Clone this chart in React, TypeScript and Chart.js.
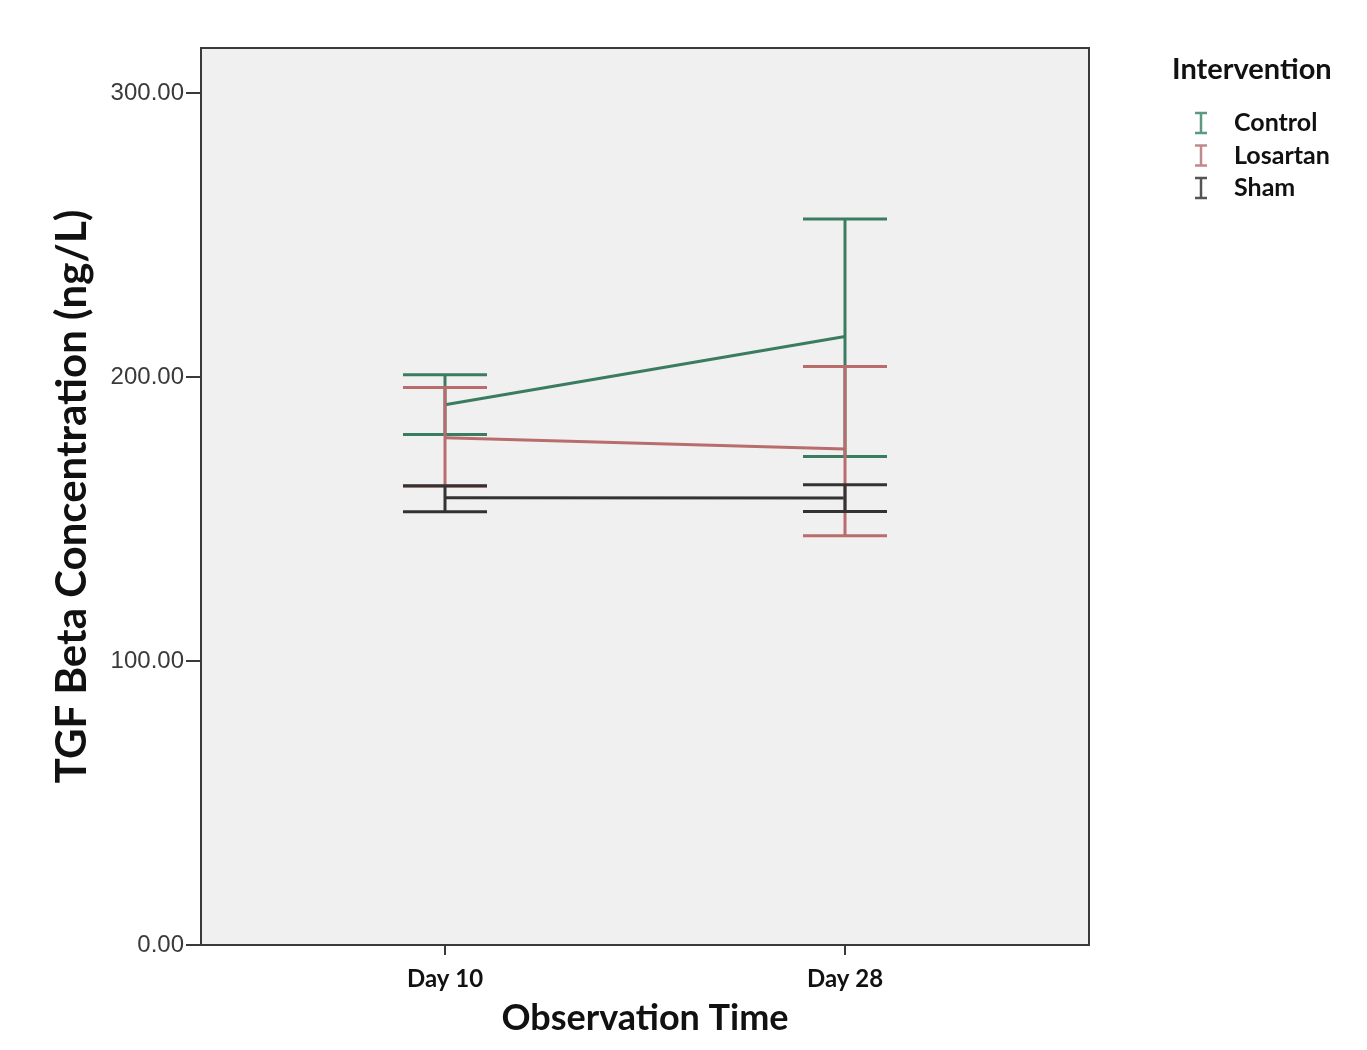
import React, { useEffect, useRef } from "react";
import { Chart, registerables } from "chart.js";

Chart.register(...registerables);

const categories = ["Day 10", "Day 28"];
const seriesNames = ["Control", "Losartan", "Sham"];
const controlMean = [190.3, 214.4];
const controlUpper = [200.9, 255.8];
const controlLower = [179.8, 172.1];
const losartanMean = [178.7, 174.7];
const losartanUpper = [196.4, 203.8];
const losartanLower = [161.6, 144.2];
const shamMean = [157.6, 157.5];
const shamUpper = [161.8, 162.1];
const shamLower = [152.6, 152.7];
const yTickValues = [0, 100, 200, 300];
const seriesColors = ["#3b7c60", "#b86c6c", "#333333"];
const legendIconColors = ["#5a9a80", "#c08a8a", "#555555"];

const means = [controlMean, losartanMean, shamMean];
const uppers = [controlUpper, losartanUpper, shamUpper];
const lowers = [controlLower, losartanLower, shamLower];

const W = 1367;
const H = 1050;

const errorBarPlugin = {
  id: "errorBars",
  afterDatasetsDraw(chart: any) {
    const ctx = chart.ctx;
    const xs = chart.scales.x;
    const ys = chart.scales.y;
    ctx.save();
    ctx.lineWidth = 3;
    ctx.lineCap = "butt";
    means.forEach((_, si) => {
      ctx.strokeStyle = seriesColors[si];
      categories.forEach((_, ci) => {
        const px = xs.getPixelForValue(ci + 1);
        const pu = ys.getPixelForValue(uppers[si][ci]);
        const pl = ys.getPixelForValue(lowers[si][ci]);
        ctx.beginPath();
        ctx.moveTo(px, pu);
        ctx.lineTo(px, pl);
        ctx.moveTo(px - 42, pu);
        ctx.lineTo(px + 42, pu);
        ctx.moveTo(px - 42, pl);
        ctx.lineTo(px + 42, pl);
        ctx.stroke();
      });
    });
    ctx.restore();
  },
};

const framePlugin = {
  id: "frame",
  beforeDraw(chart: any) {
    const { ctx, chartArea } = chart;
    ctx.save();
    ctx.fillStyle = "#ffffff";
    ctx.fillRect(0, 0, chart.width, chart.height);
    ctx.fillStyle = "#f0f0f0";
    ctx.fillRect(chartArea.left, chartArea.top, chartArea.right - chartArea.left, chartArea.bottom - chartArea.top);
    ctx.restore();
  },
  afterDraw(chart: any) {
    const { ctx, chartArea } = chart;
    ctx.save();
    ctx.strokeStyle = "#3a3a3a";
    ctx.lineWidth = 2;
    ctx.strokeRect(chartArea.left, chartArea.top, chartArea.right - chartArea.left, chartArea.bottom - chartArea.top);
    // legend
    ctx.fillStyle = "#111111";
    ctx.textBaseline = "middle";
    ctx.textAlign = "left";
    ctx.font = "bold 29px Lato";
    ctx.fillText("Intervention", 1172, 70);
    ctx.font = "bold 25px Lato";
    seriesNames.forEach((name, i) => {
      const y = 123 + i * 32.5;
      ctx.strokeStyle = legendIconColors[i];
      ctx.lineWidth = 2.5;
      ctx.beginPath();
      ctx.moveTo(1201, y - 10);
      ctx.lineTo(1201, y + 10);
      ctx.moveTo(1195, y - 10);
      ctx.lineTo(1207, y - 10);
      ctx.moveTo(1195, y + 10);
      ctx.lineTo(1207, y + 10);
      ctx.stroke();
      ctx.fillStyle = "#111111";
      ctx.fillText(name, 1234, y);
    });
    ctx.restore();
  },
};

export default function App() {
  const ref = useRef<HTMLCanvasElement | null>(null);
  useEffect(() => {
    if (!ref.current) return;
    const chart = new Chart(ref.current, {
      type: "line",
      data: {
        datasets: seriesNames.map((name, si) => ({
          label: name,
          data: categories.map((_, ci) => ({ x: ci + 1, y: means[si][ci] })),
          borderColor: seriesColors[si],
          backgroundColor: seriesColors[si],
          borderWidth: 3,
          pointRadius: 0,
          tension: 0,
        })),
      },
      options: {
        animation: false,
        responsive: false,
        devicePixelRatio: 1,
        layout: { padding: { top: 48, right: W - 1089, bottom: 0, left: 0 } },
        plugins: { legend: { display: false }, tooltip: { enabled: false } },
        scales: {
          x: {
            type: "linear",
            min: 0.39,
            max: 2.61,
            afterBuildTicks(scale: any) {
              scale.ticks = categories.map((_, i) => ({ value: i + 1 }));
            },
            afterFit(scale: any) {
              scale.height = H - 945;
            },
            ticks: {
              callback: (v: any) => categories[Number(v) - 1] ?? "",
              font: { family: "Lato", weight: "bold", size: 24 },
              color: "#111111",
              padding: 10,
              maxRotation: 0,
            },
            grid: { display: true, drawOnChartArea: false, drawTicks: true, tickLength: 10, color: "#3a3a3a", lineWidth: 2 },
            border: { display: false },
            title: {
              display: true,
              text: "Observation Time",
              font: { family: "Lato", weight: "bold", size: 36 },
              color: "#111111",
              padding: { top: 0, bottom: 10 },
            },
          },
          y: {
            type: "linear",
            min: 0,
            max: 316,
            afterBuildTicks(scale: any) {
              scale.ticks = yTickValues.map((v) => ({ value: v }));
            },
            afterFit(scale: any) {
              scale.width = 201;
            },
            ticks: {
              callback: (v: any) => Number(v).toFixed(2),
              font: { family: "Liberation Sans", size: 24 },
              color: "#3a3a3a",
              padding: 2,
            },
            grid: { display: true, drawOnChartArea: false, drawTicks: true, tickLength: 15, color: "#3a3a3a", lineWidth: 2 },
            border: { display: false },
            title: {
              display: true,
              text: "TGF Beta Concentration (ng/L)",
              font: { family: "Lato", weight: "bold", size: 42 },
              color: "#111111",
              padding: { top: 47, bottom: 0 },
            },
          },
        },
      },
      plugins: [framePlugin, errorBarPlugin],
    } as any);
    return () => chart.destroy();
  }, []);
  return (
    <div style={{ position: "absolute", left: 0, top: 0, width: W, height: H, background: "#fff" }}>
      <canvas ref={ref} width={W} height={H} style={{ display: "block", width: W, height: H }} />
    </div>
  );
}
